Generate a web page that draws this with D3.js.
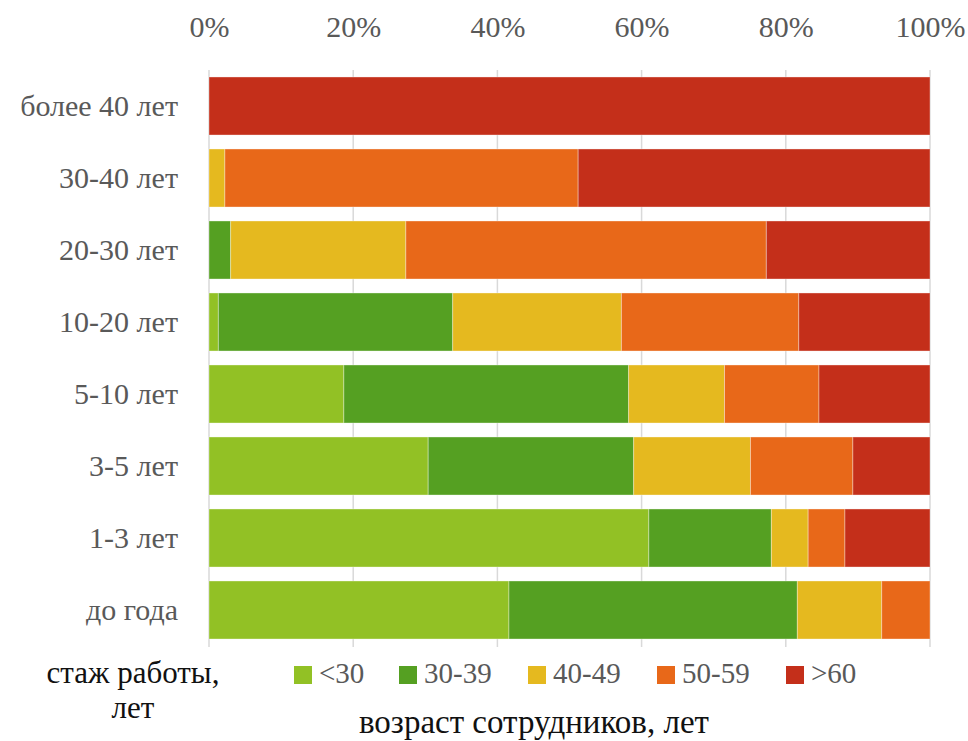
<!DOCTYPE html>
<html>
<head>
<meta charset="utf-8">
<script src="https://cdn.jsdelivr.net/npm/d3@7"></script>
<style>
  body { margin: 0; }
  #chart text { font-family: "Liberation Serif", Tinos, "Times New Roman", Georgia; }
</style>
</head>
<body>
<svg id="chart" width="968" height="741"></svg>
<script>
// Work experience groups (top to bottom)
const categories = ["более 40 лет", "30-40 лет", "20-30 лет", "10-20 лет", "5-10 лет", "3-5 лет", "1-3 лет", "до года"];

// Age groups
const seriesNames = ["<30", "30-39", "40-49", "50-59", ">60"];
const seriesColors = ["#92c125", "#55a022", "#e5b91f", "#e86819", "#c42f1a"];

// Share of employees per age group, % (same order as categories)
const ageUnder30 = [0, 0, 0, 1.3, 18.7, 30.4, 61.0, 41.6];
const age30to39 = [0, 0, 3.0, 32.5, 39.5, 28.5, 17.0, 40.0];
const age40to49 = [0, 2.2, 24.3, 23.4, 13.3, 16.2, 5.1, 11.7];
const age50to59 = [0, 49.0, 50.0, 24.6, 13.1, 14.2, 5.1, 6.7];
const age60plus = [100, 48.8, 22.7, 18.2, 15.4, 10.7, 11.8, 0];

const tickValues = [0, 0.2, 0.4, 0.6, 0.8, 1.0];

const seriesValues = [ageUnder30, age30to39, age40to49, age50to59, age60plus];

const rows = categories.map((c, i) => {
  const r = { category: c };
  seriesNames.forEach((s, k) => { r[s] = seriesValues[k][i]; });
  return r;
});

const svg = d3.select("#chart");
const margin = { left: 209, right: 38, top: 70, bottom: 95 };
const W = 968, H = 741;

const x = d3.scaleLinear().domain([0, 1]).range([margin.left, W - margin.right]);
const y = d3.scaleBand().domain(categories)
  .range([margin.top, H - margin.bottom])
  .paddingInner(0.194).paddingOuter(0.097);

// Vertical gridlines
svg.append("g")
  .selectAll("line")
  .data(tickValues)
  .join("line")
  .attr("x1", d => x(d)).attr("x2", d => x(d))
  .attr("y1", margin.top).attr("y2", H - margin.bottom + 1)
  .attr("stroke", "#d9d9d9")
  .attr("stroke-width", 1.5);

// Top percentage axis
const xAxis = d3.axisTop(x).tickValues(tickValues).tickFormat(d3.format(".0%")).tickSize(0).tickPadding(0);
const gx = svg.append("g").attr("transform", "translate(0,37)").call(xAxis);
gx.select(".domain").remove();
gx.selectAll("text")
  .attr("dy", 0)
  .attr("fill", "#595959")
  .style("font-size", "30px");

// Stacked bars, normalised per row
const stack = d3.stack().keys(seriesNames).offset(d3.stackOffsetExpand);
const stacked = stack(rows);
const color = d3.scaleOrdinal().domain(seriesNames).range(seriesColors);

svg.append("g")
  .selectAll("g")
  .data(stacked)
  .join("g")
  .attr("fill", d => color(d.key))
  .selectAll("rect")
  .data(d => d.filter(p => p[1] - p[0] > 0))
  .join("rect")
  .attr("x", d => x(d[0]))
  .attr("width", d => x(d[1]) - x(d[0]))
  .attr("y", d => y(d.data.category))
  .attr("height", y.bandwidth())
  .attr("stroke", "#ffffff")
  .attr("stroke-opacity", 0.35)
  .attr("stroke-width", 1);

// Category labels
const yAxis = d3.axisLeft(y).tickSize(0).tickPadding(0);
const gy = svg.append("g").attr("transform", "translate(178,0)").call(yAxis);
gy.select(".domain").remove();
gy.selectAll("text")
  .attr("dy", "0.32em")
  .attr("fill", "#595959")
  .style("font-size", "30px");

// Legend
const legendX = [294, 399, 528, 657, 786];
const legend = svg.append("g")
  .selectAll("g")
  .data(seriesNames)
  .join("g")
  .attr("transform", (d, i) => `translate(${legendX[i]},666)`);
legend.append("rect")
  .attr("width", 18).attr("height", 18)
  .attr("fill", d => color(d));
legend.append("text")
  .attr("x", 25).attr("y", 17)
  .attr("fill", "#595959")
  .style("font-size", "29px")
  .text(d => d);

// Axis titles
const titles = [
  { text: "стаж работы,", x: 133, y: 683, size: 31 },
  { text: "лет", x: 133, y: 718, size: 31 },
  { text: "возраст сотрудников, лет", x: 534, y: 733, size: 33 }
];
svg.append("g")
  .selectAll("text")
  .data(titles)
  .join("text")
  .attr("x", d => d.x).attr("y", d => d.y)
  .attr("text-anchor", "middle")
  .attr("fill", "#111111")
  .style("font-size", d => d.size + "px")
  .text(d => d.text);
</script>
</body>
</html>
